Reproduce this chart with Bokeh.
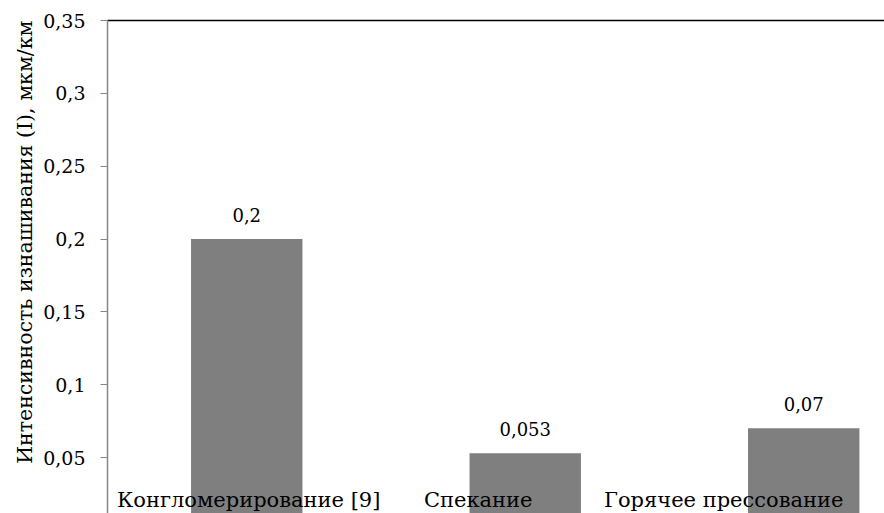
from bokeh.plotting import figure
from bokeh.models import Range1d, FixedTicker, ColumnDataSource, Title
from bokeh.core.properties import value
from bokeh.embed import file_html
from bokeh.resources import INLINE

categories = ["Конгломерирование [9]", "Спекание", "Горячее прессование"]
values = [0.2, 0.053, 0.07]
value_labels = ["0,2", "0,053", "0,07"]
y_ticks = [0.05, 0.1, 0.15, 0.2, 0.25, 0.3, 0.35]
y_tick_labels = ["0,05", "0,1", "0,15", "0,2", "0,25", "0,3", "0,35"]
y_title = "Интенсивность изнашивания (I), мкм/км"

# layout helpers (positions, not data)
cat_x_offsets = [2, -47, -80]
FONT = "DejaVu Serif"
FS_TICK = "19px"
FS_NUM = "18px"
FS_TXT = "21px"
FS_TITLE = "20.5px"

xs = [i + 0.5 for i in range(len(categories))]
src = ColumnDataSource(dict(x=xs, top=values, lab=value_labels, cat=categories,
                            xo=cat_x_offsets))

p = figure(width=884, height=513, output_backend="svg", toolbar_location=None,
           x_range=Range1d(0, 2.79), y_range=Range1d(0.01156, 0.35),
           x_axis_location="above", min_border_left=107, min_border_right=0,
           min_border_top=20, min_border_bottom=0)
p.outline_line_color = None
p.grid.visible = False
p.background_fill_color = "white"
p.border_fill_color = "white"

xa = p.xaxis[0]
xa.ticker = FixedTicker(ticks=[])
xa.major_tick_line_color = None
xa.minor_tick_line_color = None
xa.major_label_text_font_size = "0px"
xa.axis_line_color = "black"
xa.axis_line_width = 1.5

ya = p.yaxis[0]
ya.ticker = FixedTicker(ticks=y_ticks)
ya.major_label_overrides = {t: l for t, l in zip(y_ticks, y_tick_labels)}
ya.axis_line_color = "#868686"
ya.axis_line_width = 1.5
ya.major_tick_line_color = "#868686"
ya.major_tick_out = 7
ya.major_tick_in = 0
ya.minor_tick_line_color = None
ya.major_label_text_font = FONT
ya.major_label_text_font_size = FS_TICK
ya.major_label_text_color = "black"
ya.major_label_standoff = 15

p.add_layout(Title(text=y_title, align="right", offset=0, standoff=8,
                   text_font=FONT, text_font_size=FS_TITLE,
                   text_font_style="normal", text_color="black"), "left")

p.vbar(x="x", top="top", width=0.4, bottom=0, source=src,
       fill_color="#7f7f7f", line_color=None)

p.text(x="x", y="top", text="lab", source=src, y_offset=-24,
       text_align="center", text_baseline="middle",
       text_font=value(FONT), text_font_size=FS_NUM, text_color="black")

p.text(x="x", y=0.0205, text="cat", source=src, x_offset="xo",
       text_align="center", text_baseline="middle",
       text_font=value(FONT), text_font_size=FS_TXT, text_color="black")

open("out.html", "w").write(file_html(p, INLINE))
